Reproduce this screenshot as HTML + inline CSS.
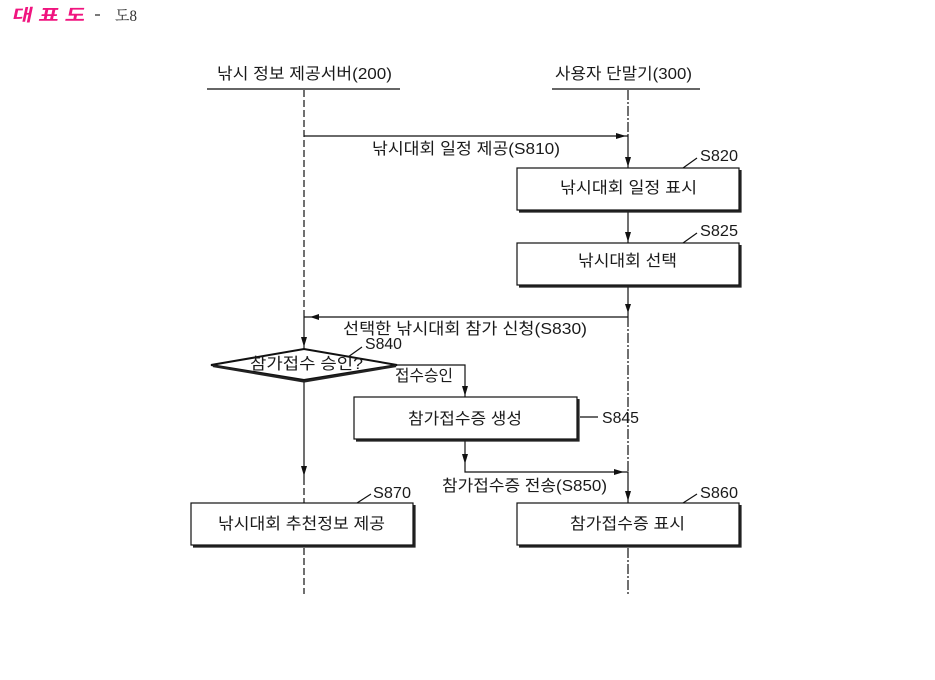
<!DOCTYPE html>
<html><head><meta charset="utf-8">
<style>
html,body{margin:0;padding:0;background:#fff;}
svg{display:block;}
text{font-family:"Liberation Sans","Noto Sans CJK KR",sans-serif;font-size:16px;fill:#1a1a1a;}
</style></head>
<body>
<svg width="935" height="680" viewBox="0 0 935 680" xmlns="http://www.w3.org/2000/svg">
<rect width="935" height="680" fill="#fff"/>

<!-- title -->
<g transform="translate(12,0) skewX(-12)">
<text x="4" y="21" style="font-size:17px;font-weight:bold;fill:#f0147f" textLength="73" lengthAdjust="spacingAndGlyphs">대 표 도</text>
</g>
<line x1="95" y1="15" x2="100" y2="15" stroke="#333" stroke-width="1.3"/>
<text x="115" y="21" style="font-family:'Liberation Serif','Noto Serif CJK SC',serif;font-size:16px;fill:#333" textLength="22" lengthAdjust="spacingAndGlyphs">도8</text>

<!-- headers -->
<text x="217" y="79" textLength="175" lengthAdjust="spacingAndGlyphs">낚시 정보 제공서버(200)</text>
<text x="555" y="79" textLength="137" lengthAdjust="spacingAndGlyphs">사용자 단말기(300)</text>
<line x1="207" y1="89" x2="400" y2="89" stroke="#333" stroke-width="1.5"/>
<line x1="552" y1="89" x2="700" y2="89" stroke="#333" stroke-width="1.5"/>

<g stroke="#111" fill="none" stroke-width="1.2">
<!-- left lifeline dashed -->
<line x1="304" y1="90" x2="304" y2="317" stroke-dasharray="7,3"/>
<line x1="304" y1="478" x2="304" y2="503" stroke-dasharray="7,3"/>
<line x1="304" y1="548" x2="304" y2="594" stroke-dasharray="7,3"/>
<!-- right lifeline dash-dot -->
<line x1="628" y1="90" x2="628" y2="136" stroke-dasharray="10,2,2,2"/>
<line x1="628" y1="317" x2="628" y2="472" stroke-dasharray="10,2,2,2"/>
<line x1="628" y1="548" x2="628" y2="594" stroke-dasharray="10,2,2,2"/>

<!-- solid connectors -->
<line x1="304" y1="136" x2="628" y2="136"/>
<line x1="628" y1="136" x2="628" y2="168"/>
<line x1="628" y1="212" x2="628" y2="243"/>
<line x1="628" y1="287" x2="628" y2="317"/>
<line x1="304" y1="317" x2="628" y2="317"/>
<line x1="304" y1="317" x2="304" y2="349"/>
<line x1="304" y1="381" x2="304" y2="478"/>
<polyline points="397,365 465,365 465,397"/>
<polyline points="465,441 465,472 628,472 628,503"/>

<!-- S840 leader etc -->
<line x1="348" y1="357" x2="362" y2="347"/>
<line x1="683" y1="168" x2="697" y2="158"/>
<line x1="683" y1="243" x2="697" y2="233"/>
<line x1="580" y1="417" x2="598" y2="417"/>
<line x1="683" y1="503" x2="697" y2="494"/>
<line x1="357" y1="503" x2="371" y2="494"/>
</g>

<!-- arrowheads -->
<g fill="#111">
<polygon points="616,133 616,139 626,136"/>
<polygon points="625,157 631,157 628,167"/>
<polygon points="625,232 631,232 628,242"/>
<polygon points="625,304 631,304 628,313"/>
<polygon points="319,314 319,320 310,317"/>
<polygon points="301,337 307,337 304,347"/>
<polygon points="462,386 468,386 465,396"/>
<polygon points="462,454 468,454 465,464"/>
<polygon points="614,469 614,475 624,472"/>
<polygon points="625,491 631,491 628,501"/>
<polygon points="301,466 307,466 304,476"/>
</g>

<!-- boxes with shadow -->
<g fill="#fff" stroke="#111" stroke-width="1.2">
<rect x="517" y="168" width="222" height="42"/>
<rect x="517" y="243" width="222" height="42"/>
<rect x="354" y="397" width="223" height="42"/>
<rect x="517" y="503" width="222" height="42"/>
<rect x="191" y="503" width="222" height="42"/>
<polygon points="211,365 304,349 397,365 304,380" stroke-width="2"/>
</g>
<g stroke="#222" stroke-width="2.2" fill="none">
<polyline points="519,211.5 740.5,211.5 740.5,170"/>
<polyline points="519,286.5 740.5,286.5 740.5,245"/>
<polyline points="356,440.5 578.5,440.5 578.5,399"/>
<polyline points="519,546.5 740.5,546.5 740.5,505"/>
<polyline points="193,546.5 414.5,546.5 414.5,505"/>
<polyline points="213,366 304,381.5 396,366"/>
</g>

<!-- labels -->
<text x="372" y="154" textLength="188" lengthAdjust="spacingAndGlyphs">낚시대회 일정 제공(S810)</text>
<text x="700" y="161" textLength="38" lengthAdjust="spacingAndGlyphs">S820</text>
<text x="560" y="193" textLength="137" lengthAdjust="spacingAndGlyphs">낚시대회 일정 표시</text>
<text x="700" y="236" textLength="38" lengthAdjust="spacingAndGlyphs">S825</text>
<text x="578" y="266" textLength="99" lengthAdjust="spacingAndGlyphs">낚시대회 선택</text>
<text x="343" y="334" textLength="244" lengthAdjust="spacingAndGlyphs">선택한 낚시대회 참가 신청(S830)</text>
<text x="365" y="349" textLength="37" lengthAdjust="spacingAndGlyphs">S840</text>
<text x="250" y="369" textLength="113" lengthAdjust="spacingAndGlyphs">참가접수 승인?</text>
<text x="395" y="381" textLength="58" lengthAdjust="spacingAndGlyphs">접수승인</text>
<text x="408" y="424" textLength="114" lengthAdjust="spacingAndGlyphs">참가접수증 생성</text>
<text x="602" y="423" textLength="37" lengthAdjust="spacingAndGlyphs">S845</text>
<text x="442" y="491" textLength="165" lengthAdjust="spacingAndGlyphs">참가접수증 전송(S850)</text>
<text x="700" y="498" textLength="38" lengthAdjust="spacingAndGlyphs">S860</text>
<text x="373" y="498" textLength="38" lengthAdjust="spacingAndGlyphs">S870</text>
<text x="570" y="529" textLength="115" lengthAdjust="spacingAndGlyphs">참가접수증 표시</text>
<text x="218" y="529" textLength="167" lengthAdjust="spacingAndGlyphs">낚시대회 추천정보 제공</text>
</svg>
</body></html>
